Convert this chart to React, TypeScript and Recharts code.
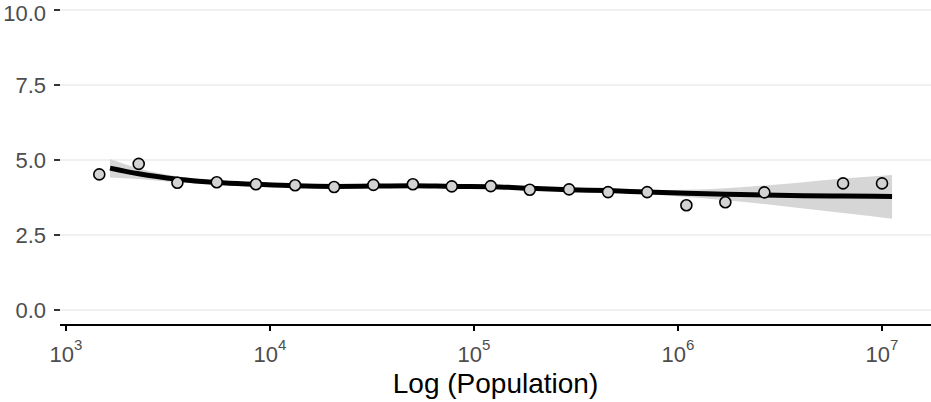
import { ComposedChart, Area, Line, Scatter, XAxis, YAxis, CartesianGrid, Label } from "recharts"

// observed points (population, rate)
const pointPop = [
  1456, 2272, 3516, 5483, 8531, 13270, 20610, 32120, 50150, 77800,
  120800, 187600, 292300, 454000, 706000, 1099000, 1706000, 2649000, 6442000, 10000000,
]
const pointRate = [
  4.52, 4.87, 4.24, 4.26, 4.19, 4.16, 4.1, 4.17, 4.19, 4.12,
  4.13, 4.01, 4.02, 3.93, 3.93, 3.49, 3.59, 3.92, 4.22, 4.22,
]

// smoothed fit with its confidence band
const fitPop = [
  1644, 2272, 3516, 5483, 8531, 13270, 20610, 32120, 50150, 77800, 120800,
  187600, 292300, 454000, 706000, 1099000, 1706000, 2649000, 4130000, 6442000, 11200000,
]
const fitRate = [
  4.73, 4.54, 4.36, 4.25, 4.19, 4.14, 4.12, 4.13, 4.14, 4.12, 4.11,
  4.06, 4.01, 3.98, 3.93, 3.89, 3.86, 3.83, 3.81, 3.8, 3.78,
]
const fitLow = [
  4.42, 4.37, 4.26, 4.19, 4.14, 4.1, 4.08, 4.09, 4.1, 4.08, 4.07,
  4.02, 3.97, 3.93, 3.86, 3.77, 3.66, 3.53, 3.38, 3.23, 3.04,
]
const fitHigh = [
  5.03, 4.72, 4.46, 4.31, 4.24, 4.18, 4.16, 4.17, 4.18, 4.16, 4.15,
  4.1, 4.05, 4.03, 4.0, 4.01, 4.06, 4.15, 4.26, 4.38, 4.5,
]

const xTicks = [1e3, 1e4, 1e5, 1e6, 1e7]
const yTicks = [0, 2.5, 5, 7.5, 10]

const points = pointPop.map((pop, i) => ({ pop, rate: pointRate[i] }))
const fit = fitPop.map((pop, i) => ({ pop, fit: fitRate[i], band: [fitLow[i], fitHigh[i]] }))

const PowTick = (props: any) => {
  const { x, y, payload } = props
  const exp = Math.round(Math.log10(payload.value))
  return (
    <text x={x} y={y + 29} textAnchor="middle" fill="#4d4d4d" fontSize={22}>
      <tspan>10</tspan>
      <tspan dy={-12} fontSize={15}>{exp}</tspan>
    </text>
  )
}

const Dot = (props: any) => {
  const { cx, cy } = props
  return <circle cx={cx} cy={cy} r={5.5} fill="#d3d3d3" stroke="#000" strokeWidth={1.6} />
}

export default function App() {
  return (
    <div style={{ position: "absolute", left: 0, top: 0, width: 931, height: 402, background: "#fff" }}>
      <ComposedChart
        width={931}
        height={402}
        data={fit}
        margin={{ top: 10, right: 0, bottom: 0, left: 0 }}
        style={{ fontFamily: "'Liberation Sans', Arial, sans-serif" }}
      >
        <CartesianGrid vertical={false} stroke="#ebebeb" strokeWidth={1.5} />
        <XAxis
          dataKey="pop"
          type="number"
          scale="log"
          domain={[934.6, 17380000]}
          allowDataOverflow
          ticks={xTicks}
          tick={<PowTick />}
          height={77}
          axisLine={{ stroke: "#000", strokeWidth: 2 }}
          tickLine={{ stroke: "#000", strokeWidth: 2 }}
          tickSize={6}
        >
          <Label value="Log (Population)" position="insideBottom" offset={9} fill="#000" fontSize={28} />
        </XAxis>
        <YAxis
          type="number"
          domain={[-0.5, 10]}
          allowDataOverflow
          ticks={yTicks}
          tickFormatter={(v) => v.toFixed(1)}
          width={60}
          axisLine={false}
          tickLine={{ stroke: "#333", strokeWidth: 2 }}
          tickSize={6}
          tickMargin={8}
          tick={{ fill: "#4d4d4d", fontSize: 22 }}
        />
        <Area
          dataKey="band"
          type="monotone"
          stroke="none"
          fill="#d6d6d6"
          fillOpacity={1}
          isAnimationActive={false}
        />
        <Line dataKey="fit" type="monotone" stroke="#000" strokeWidth={5} dot={false} isAnimationActive={false} />
        <Scatter data={points} dataKey="rate" shape={<Dot />} isAnimationActive={false} />
      </ComposedChart>
    </div>
  )
}
